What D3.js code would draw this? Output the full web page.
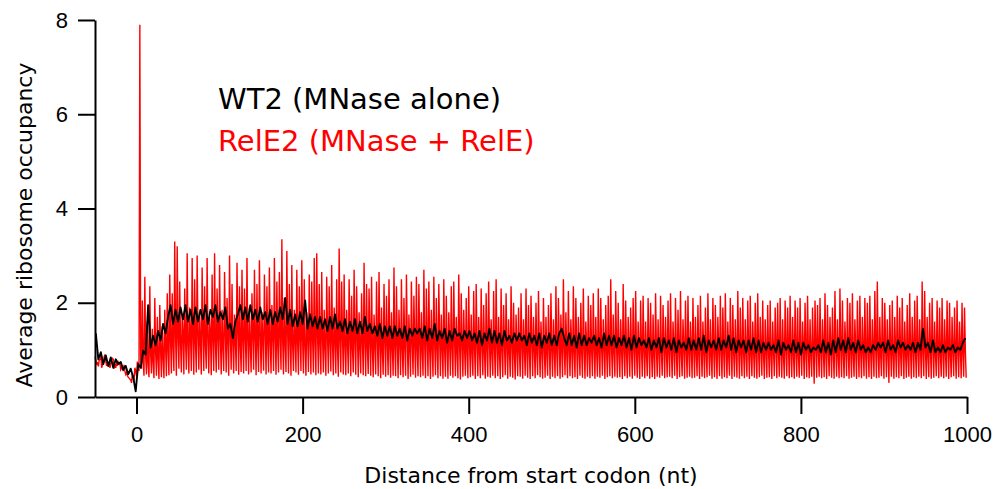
<!DOCTYPE html>
<html>
<head>
<meta charset="utf-8">
<script src="https://cdn.jsdelivr.net/npm/d3@7"></script>
<style>
  html, body { margin: 0; padding: 0; background: #fff; }
  svg { display: block; font-family: "DejaVu Sans", Verdana, sans-serif; }
  .axis path, .axis line { stroke: #000; stroke-width: 2; }
  .axis text { font-size: 22px; fill: #000; }
</style>
</head>
<body>
<div id="chart"></div>
<script>
/* Average ribosome occupancy around the start codon, WT2 vs RelE2. */

// first codon starts at nt -50, one value per frame of each codon
var codonStart = -50;
var xTicks = [0, 200, 400, 600, 800, 1000];
var yTicks = [0, 2, 4, 6, 8];
var seriesNames = ["WT2 (MNase alone)", "RelE2 (MNase + RelE)"];

// RelE2, frame 0 of each codon (the strong frame)
var relHi = [
  0.85,0.72,0.80,0.68,0.90,0.75,0.62,0.82,0.70,0.66,
  0.72,0.60,0.55,0.45,0.38,0.50,0.62,0.75,7.90,2.05,
  2.55,1.60,2.35,1.45,2.10,1.70,1.95,1.50,1.85,2.20,
  2.60,2.20,3.30,3.20,2.45,1.75,2.30,3.05,1.90,2.95,
  2.50,3.00,1.80,2.75,2.35,2.95,1.70,2.60,3.05,2.30,
  2.80,1.85,2.65,2.10,3.00,2.40,1.75,2.85,2.35,2.70,
  2.30,2.95,1.90,2.20,2.70,2.40,2.90,1.80,2.60,2.35,
  2.75,1.95,2.95,2.45,2.65,3.35,2.10,3.10,2.40,2.80,
  1.85,2.70,2.35,2.90,2.50,1.80,2.60,2.45,2.95,3.05,
  2.40,2.65,1.85,2.55,2.35,2.80,1.90,2.50,3.15,2.45,
  2.60,1.85,2.50,2.15,2.70,2.35,1.80,2.20,2.85,2.40,
  2.30,2.55,1.75,2.45,2.65,1.90,2.40,2.15,2.50,1.80,
  2.75,2.35,1.85,2.50,2.10,2.60,1.75,2.45,2.15,2.55,
  2.40,1.80,2.70,2.30,2.45,1.85,2.55,2.10,2.40,1.75,
  2.50,2.15,1.80,2.35,2.45,1.70,2.60,2.20,1.85,2.10,
  2.35,1.75,2.25,2.40,1.70,2.30,1.95,2.20,2.45,1.65,
  2.25,2.50,1.70,2.30,1.95,2.20,1.65,2.35,2.00,1.75,
  1.90,2.20,1.65,2.30,1.95,2.15,1.70,2.00,2.25,1.60,
  2.10,1.70,1.95,2.20,1.65,2.35,2.10,1.75,2.50,1.80,
  2.25,1.65,2.35,2.10,1.70,2.00,2.30,1.60,2.15,1.95,
  2.20,1.70,2.30,2.10,1.65,1.95,2.15,2.50,1.75,2.25,
  2.00,1.65,2.40,2.05,1.70,1.90,2.10,2.25,1.60,2.05,
  2.15,1.60,2.10,2.00,1.75,2.20,1.65,2.15,1.95,1.70,
  2.05,2.20,1.60,2.10,1.85,2.25,1.65,2.05,2.15,1.60,
  2.10,1.70,1.95,2.15,1.60,1.90,2.20,1.65,2.10,1.95,
  1.70,2.15,1.90,2.20,1.60,2.10,1.95,1.65,2.25,1.90,
  2.10,1.65,2.05,2.15,1.60,2.00,2.20,1.70,2.05,1.65,
  1.95,2.05,1.60,1.90,2.00,2.10,1.65,2.05,1.90,2.15,
  1.70,2.05,1.90,2.10,1.60,2.00,2.15,1.65,1.90,2.05,
  1.95,2.10,1.65,2.20,1.95,1.70,1.90,2.25,1.65,2.30,
  2.05,1.60,2.10,2.00,2.20,1.65,2.05,2.15,1.70,2.10,
  2.00,2.15,1.65,2.25,2.45,1.70,2.10,2.00,1.65,1.95,
  2.05,1.70,2.15,1.90,2.10,1.60,1.95,2.20,1.70,2.05,
  2.15,1.65,2.45,2.25,1.70,2.00,2.10,1.60,2.05,1.90,
  2.10,1.65,2.05,2.00,1.70,1.90,2.05,1.60,2.00,1.90
];

// RelE2, frame 1
var relMid = [
  0.78,0.65,0.88,0.70,0.76,0.64,0.72,0.80,0.62,0.74,
  0.58,0.55,0.48,0.42,0.36,0.40,0.55,0.65,0.80,0.75,
  0.85,0.70,0.90,0.75,0.95,0.80,1.00,0.85,1.05,1.00,
  1.20,1.10,1.30,1.25,1.15,1.35,1.20,1.10,1.30,1.25,
  1.15,1.30,1.20,1.40,1.10,1.25,1.35,1.20,1.15,1.30,
  1.25,1.10,1.35,1.20,1.30,1.15,1.25,1.40,1.10,1.20,
  1.30,1.20,1.15,1.35,1.25,1.10,1.30,1.20,1.40,1.15,
  1.20,1.35,1.25,1.10,1.30,1.20,1.15,1.35,1.25,1.10,
  1.25,1.15,1.30,1.20,1.10,1.35,1.20,1.25,1.15,1.30,
  1.15,1.25,1.10,1.30,1.20,1.15,1.25,1.05,1.20,1.30,
  1.10,1.20,1.25,1.05,1.15,1.30,1.10,1.20,1.15,1.05,
  1.20,1.05,1.15,1.25,1.10,1.00,1.20,1.15,1.05,1.10,
  1.05,1.15,1.20,1.00,1.10,1.25,1.05,1.15,1.10,1.00,
  1.15,1.05,1.10,1.20,1.00,1.10,1.15,1.05,1.20,1.10,
  1.00,1.10,1.15,1.05,1.20,1.00,1.10,1.15,1.05,1.00,
  1.10,1.00,1.05,1.15,1.00,1.10,0.95,1.05,1.15,1.00,
  1.05,1.10,0.95,1.00,1.15,1.05,1.00,1.10,0.95,1.05,
  1.00,1.10,1.05,0.95,1.00,1.15,1.05,0.95,1.10,1.00,
  1.05,0.95,1.10,1.00,1.05,0.95,1.15,1.00,1.05,0.95,
  1.00,1.05,0.95,1.10,1.00,0.95,1.05,1.10,0.95,1.00,
  1.05,1.00,0.95,1.05,1.10,1.00,0.95,1.05,1.00,1.10,
  0.95,1.05,1.00,0.95,1.10,1.00,1.05,0.95,1.00,1.05,
  1.00,0.95,1.05,1.00,0.90,1.05,1.00,0.95,1.05,1.00,
  0.95,1.00,1.05,0.95,1.00,0.90,1.05,1.00,0.95,1.05,
  1.00,0.95,0.90,1.05,1.00,0.95,1.05,0.90,1.00,0.95,
  1.05,1.00,0.95,1.00,0.90,1.05,0.95,1.00,1.05,0.95,
  0.95,1.00,1.05,0.90,1.00,0.95,1.00,1.05,0.90,1.00,
  1.00,0.90,1.00,1.05,0.95,1.00,0.90,1.00,1.05,0.95,
  0.95,1.00,0.90,1.00,1.05,0.95,1.00,0.90,1.00,1.05,
  1.00,0.95,1.05,0.90,1.00,1.05,0.95,1.00,0.90,1.00,
  0.95,1.05,1.00,0.95,0.90,1.00,1.05,0.95,1.00,0.90,
  1.00,0.95,1.00,1.05,0.95,0.90,1.00,1.05,0.95,1.00,
  0.90,1.00,1.05,0.95,1.00,0.95,0.90,1.00,1.05,0.95,
  1.00,1.05,0.95,1.00,0.90,1.00,1.05,0.95,1.00,0.90,
  0.95,1.00,1.05,0.90,1.00,0.95,1.00,1.05,0.95,1.00
];

// RelE2, frame 2
var relLo = [
  0.70,0.78,0.62,0.85,0.66,0.72,0.80,0.60,0.75,0.70,
  0.62,0.68,0.52,0.40,0.30,0.35,0.45,0.55,0.60,0.45,
  0.48,0.42,0.50,0.40,0.45,0.38,0.42,0.40,0.44,0.46,
  0.50,0.55,0.45,0.60,0.52,0.48,0.58,0.50,0.55,0.47,
  0.52,0.58,0.48,0.55,0.60,0.50,0.46,0.55,0.52,0.58,
  0.48,0.55,0.52,0.45,0.58,0.50,0.55,0.47,0.53,0.50,
  0.55,0.48,0.52,0.58,0.46,0.53,0.50,0.56,0.48,0.52,
  0.50,0.55,0.47,0.52,0.58,0.48,0.53,0.50,0.45,0.55,
  0.52,0.47,0.55,0.50,0.45,0.53,0.48,0.52,0.46,0.50,
  0.48,0.52,0.45,0.50,0.54,0.46,0.50,0.43,0.52,0.48,
  0.46,0.50,0.44,0.52,0.47,0.42,0.50,0.46,0.44,0.49,
  0.45,0.42,0.48,0.44,0.40,0.47,0.43,0.46,0.41,0.45,
  0.44,0.40,0.46,0.42,0.45,0.38,0.43,0.47,0.41,0.44,
  0.42,0.45,0.40,0.44,0.38,0.43,0.46,0.40,0.44,0.39,
  0.43,0.39,0.45,0.41,0.44,0.40,0.37,0.43,0.45,0.40,
  0.42,0.45,0.38,0.44,0.40,0.46,0.39,0.43,0.41,0.45,
  0.40,0.44,0.38,0.42,0.46,0.39,0.43,0.41,0.37,0.44,
  0.43,0.39,0.45,0.41,0.38,0.44,0.40,0.46,0.42,0.39,
  0.41,0.45,0.38,0.43,0.40,0.44,0.39,0.42,0.46,0.40,
  0.44,0.40,0.42,0.38,0.45,0.41,0.39,0.43,0.40,0.44,
  0.39,0.43,0.41,0.45,0.38,0.42,0.44,0.40,0.43,0.41,
  0.42,0.38,0.44,0.40,0.43,0.39,0.45,0.41,0.38,0.43,
  0.40,0.44,0.39,0.42,0.38,0.43,0.41,0.45,0.40,0.42,
  0.43,0.40,0.45,0.38,0.42,0.44,0.39,0.41,0.43,0.40,
  0.41,0.44,0.38,0.43,0.40,0.42,0.45,0.39,0.42,0.38,
  0.44,0.39,0.42,0.40,0.45,0.38,0.43,0.41,0.39,0.44,
  0.40,0.43,0.38,0.44,0.41,0.39,0.42,0.45,0.38,0.41,
  0.42,0.38,0.44,0.40,0.43,0.41,0.39,0.44,0.40,0.42,
  0.39,0.43,0.41,0.45,0.38,0.42,0.40,0.43,0.28,0.41,
  0.43,0.40,0.42,0.38,0.44,0.41,0.39,0.43,0.40,0.42,
  0.40,0.44,0.39,0.41,0.43,0.38,0.42,0.40,0.44,0.39,
  0.42,0.38,0.43,0.40,0.41,0.44,0.39,0.42,0.30,0.43,
  0.39,0.42,0.40,0.44,0.38,0.41,0.43,0.39,0.42,0.40,
  0.43,0.40,0.44,0.38,0.42,0.39,0.41,0.44,0.40,0.43,
  0.40,0.43,0.38,0.42,0.44,0.39,0.42,0.40,0.43,0.41
];

// WT2, one value per codon (middle nt)
var wtVals = [
  1.35,0.80,0.95,0.70,0.88,0.66,0.84,0.62,0.80,0.70,
  0.74,0.58,0.66,0.48,0.60,0.42,0.12,0.70,0.62,0.98,
  0.90,1.95,1.05,1.30,1.10,1.40,1.20,1.55,1.35,1.70,
  1.95,1.55,1.85,1.60,1.90,1.65,1.95,1.60,1.85,1.55,
  1.90,1.60,1.85,1.65,1.95,1.55,1.85,1.70,1.95,1.60,
  1.80,1.65,1.90,1.45,1.55,1.25,1.60,1.75,1.95,1.65,
  1.90,1.60,1.95,1.65,1.85,1.60,1.90,1.65,1.80,1.55,
  1.85,1.55,1.80,1.60,1.90,1.65,2.10,1.55,1.85,1.50,
  1.75,1.50,1.80,1.55,2.05,1.45,1.75,1.50,1.70,1.45,
  1.70,1.45,1.65,1.40,1.70,1.45,1.75,1.45,1.60,1.40,
  1.65,1.35,1.60,1.40,1.65,1.35,1.60,1.35,1.70,1.40,
  1.55,1.35,1.50,1.30,1.55,1.25,1.50,1.30,1.50,1.25,
  1.50,1.30,1.45,1.25,1.50,1.20,1.45,1.30,1.45,1.35,
  1.45,1.25,1.50,1.20,1.45,1.25,1.55,1.20,1.40,1.25,
  1.45,1.15,1.40,1.20,1.45,1.30,1.35,1.20,1.40,1.25,
  1.40,1.20,1.35,1.15,1.40,1.10,1.35,1.20,1.45,1.15,
  1.40,1.15,1.35,1.10,1.40,1.20,1.30,1.15,1.35,1.20,
  1.35,1.20,1.30,1.10,1.35,1.15,1.30,1.10,1.35,1.05,
  1.30,1.15,1.35,1.10,1.30,1.10,1.35,1.45,1.25,1.10,
  1.35,1.10,1.30,1.05,1.35,1.10,1.30,1.10,1.25,1.15,
  1.30,1.10,1.25,1.05,1.35,1.10,1.30,1.10,1.30,1.05,
  1.25,1.10,1.30,1.05,1.25,1.00,1.30,1.05,1.25,1.10,
  1.20,1.05,1.25,1.00,1.20,1.05,1.25,0.95,1.25,1.05,
  1.20,1.00,1.25,0.95,1.20,1.05,1.15,1.00,1.25,1.00,
  1.20,1.00,1.25,1.00,1.30,0.95,1.20,1.05,1.20,1.00,
  1.25,1.00,1.20,1.05,1.30,1.00,1.25,0.95,1.20,1.05,
  1.20,0.95,1.20,1.00,1.25,0.95,1.20,0.95,1.15,1.00,
  1.15,1.00,1.10,0.95,1.20,0.90,1.15,1.00,1.10,0.95,
  1.20,0.95,1.15,0.90,1.15,1.00,1.10,0.95,1.05,1.00,
  1.10,0.95,1.20,0.95,1.15,0.90,1.20,0.95,1.25,1.00,
  1.20,0.95,1.25,1.00,1.15,0.95,1.20,1.00,1.10,0.95,
  1.05,0.95,1.10,1.00,1.15,1.05,1.15,0.95,1.20,1.00,
  1.10,0.95,1.20,1.05,1.15,1.00,1.10,1.00,1.15,0.95,
  1.15,1.00,1.45,1.05,1.15,0.95,1.20,0.95,1.05,0.95,
  1.10,0.95,1.05,1.00,1.10,0.95,1.05,1.00,1.15,1.25
];

var width = 1003, height = 489;
var margin = {top: 20, right: 36, bottom: 92, left: 95};
var plotW = width - margin.left - margin.right;
var plotH = height - margin.top - margin.bottom;

var svg = d3.select("#chart").append("svg")
    .attr("width", width)
    .attr("height", height);

var g = svg.append("g")
    .attr("transform", "translate(" + margin.left + "," + margin.top + ")");

var x = d3.scaleLinear().domain([-50, 1000]).range([0, plotW]);
var y = d3.scaleLinear().domain([0, 8]).range([plotH, 0]);

// expand codon frames into per-nt points
var relData = [];
relHi.forEach(function(v, i) {
    var p = codonStart + 3 * i;
    relData.push({nt: p, v: v});
    relData.push({nt: p + 1, v: relMid[i]});
    relData.push({nt: p + 2, v: relLo[i]});
});
var wtData = wtVals.map(function(v, i) {
    return {nt: codonStart + 3 * i + 1, v: v};
});

var line = d3.line()
    .x(function(d) { return x(d.nt); })
    .y(function(d) { return y(d.v); });

g.append("path")
    .datum(relData)
    .attr("fill", "none")
    .attr("stroke", "#ff0000")
    .attr("stroke-width", 1.4)
    .attr("d", line);

g.append("path")
    .datum(wtData)
    .attr("fill", "none")
    .attr("stroke", "#000")
    .attr("stroke-width", 1.9)
    .attr("stroke-linejoin", "round")
    .attr("d", line);

// axes
g.append("g")
    .attr("class", "axis")
    .attr("transform", "translate(0," + plotH + ")")
    .call(d3.axisBottom(x).tickValues(xTicks).tickFormat(d3.format("d"))
        .tickSize(17).tickSizeOuter(0).tickPadding(12));

g.append("g")
    .attr("class", "axis")
    .call(d3.axisLeft(y).tickValues(yTicks).tickFormat(d3.format("d"))
        .tickSize(17).tickSizeOuter(0).tickPadding(10));

g.selectAll(".axis text").attr("font-family", null);

// axis titles
svg.append("text")
    .attr("x", margin.left + x(475))
    .attr("y", 483)
    .attr("text-anchor", "middle")
    .attr("font-size", 22)
    .text("Distance from start codon (nt)");

svg.append("text")
    .attr("transform", "translate(32," + (margin.top + y(3.65)) + ") rotate(-90)")
    .attr("text-anchor", "middle")
    .attr("font-size", 22)
    .text("Average ribosome occupancy");

// legend text
svg.append("text")
    .attr("x", 218).attr("y", 109)
    .attr("font-size", 29)
    .attr("fill", "#000")
    .text(seriesNames[0]);

svg.append("text")
    .attr("x", 218).attr("y", 151)
    .attr("font-size", 29)
    .attr("fill", "#ff0000")
    .text(seriesNames[1]);
</script>
</body>
</html>
